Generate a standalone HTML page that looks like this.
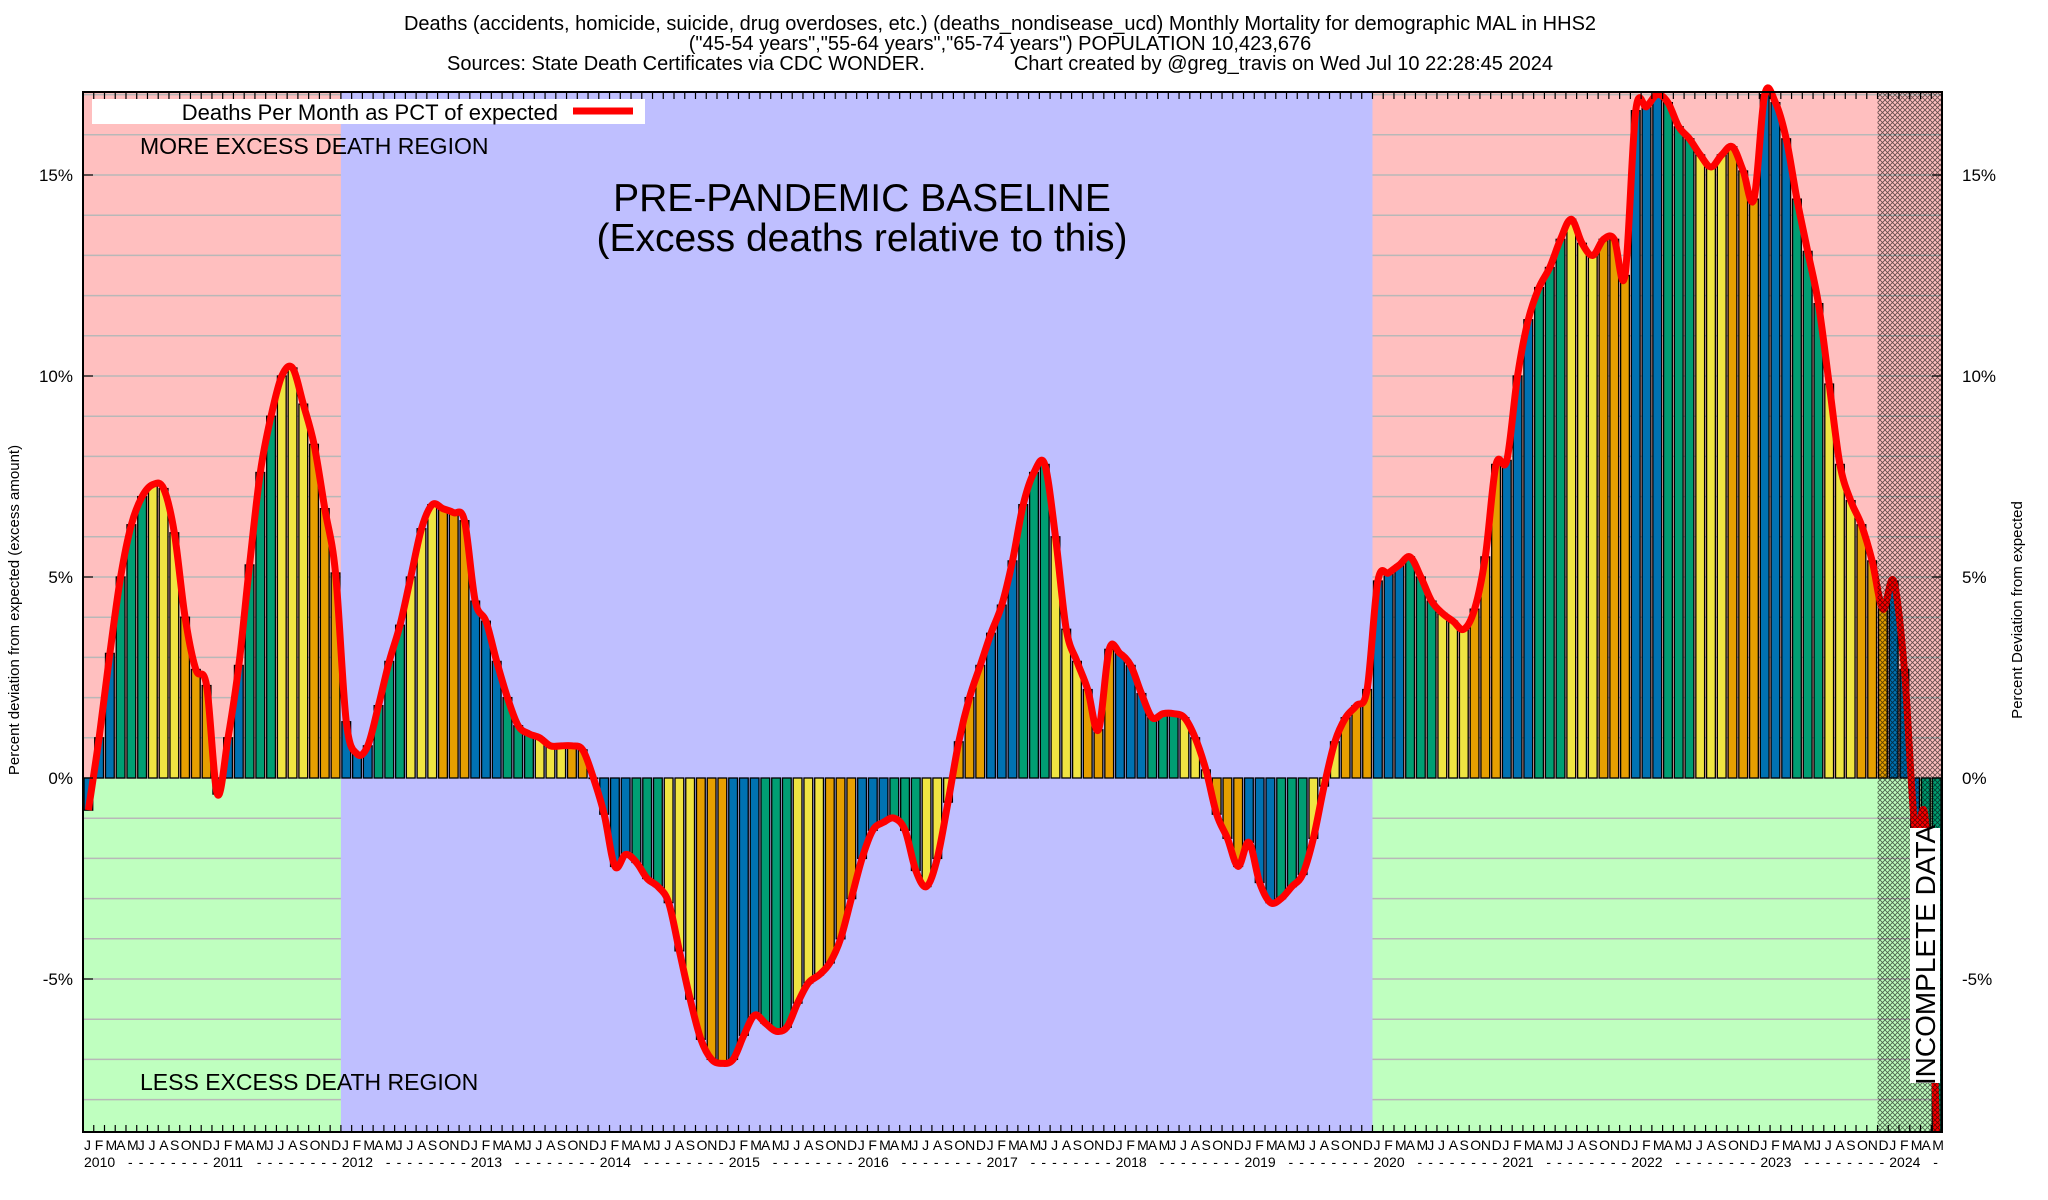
<!DOCTYPE html>
<html><head><meta charset="utf-8"><style>
html,body{margin:0;padding:0;background:#fff}
svg{display:block;font-family:"Liberation Sans",sans-serif}
</style></head><body>
<svg id="chart" width="2048" height="1200" viewBox="0 0 2048 1200" xmlns="http://www.w3.org/2000/svg">
<defs>
<pattern id="hatch" width="5" height="5" patternUnits="userSpaceOnUse">
<path d="M0,0 L5,5 M5,0 L0,5" stroke="#000" stroke-width="0.9" opacity="0.6"/>
</pattern>
</defs>
<g font-size="20" text-anchor="middle" fill="#000">
<text x="1000" y="30">Deaths (accidents, homicide, suicide, drug overdoses, etc.) (deaths_nondisease_ucd) Monthly Mortality for demographic MAL in HHS2</text>
<text x="1000" y="50">("45-54 years","55-64 years","65-74 years") POPULATION 10,423,676</text>
<text x="1000" y="70" xml:space="preserve">Sources: State Death Certificates via CDC WONDER.                Chart created by @greg_travis on Wed Jul 10 22:28:45 2024</text>
</g>
<g id="plot"></g>
</svg>
<script>
const years = [2010,2011,2012,2013,2014,2015,2016,2017,2018,2019,2020,2021,2022,2023,2024];
const monthLetters = ["J","F","M","A","M","J","J","A","S","O","N","D"];
const yTicks = [15,10,5,0,-5];
const values = [
-0.8,1.0,3.1,5.0,6.3,7.0,7.3,7.2,6.1,4.0,2.7,2.3,
-0.4,1.0,2.8,5.3,7.6,9.0,10.0,10.2,9.3,8.3,6.7,5.1,
1.4,0.6,0.8,1.8,2.9,3.8,5.0,6.2,6.8,6.7,6.6,6.4,
4.4,3.9,2.9,2.0,1.3,1.1,1.0,0.8,0.8,0.8,0.7,0.0,
-0.9,-2.2,-1.9,-2.1,-2.5,-2.7,-3.1,-4.3,-5.5,-6.5,-7.0,-7.1,
-7.0,-6.4,-5.9,-6.1,-6.3,-6.2,-5.6,-5.1,-4.9,-4.6,-4.0,-3.0,
-2.0,-1.3,-1.1,-1.0,-1.3,-2.3,-2.7,-2.0,-0.6,0.9,2.0,2.8,
3.6,4.3,5.4,6.8,7.6,7.8,6.0,3.7,2.9,2.2,1.2,3.2,
3.1,2.8,2.1,1.5,1.6,1.6,1.5,1.0,0.2,-0.9,-1.5,-2.2,
-1.6,-2.6,-3.1,-3.0,-2.7,-2.4,-1.5,-0.2,0.9,1.5,1.8,2.2,
4.9,5.1,5.3,5.5,5.0,4.4,4.1,3.9,3.7,4.2,5.5,7.8,
7.9,10.0,11.4,12.2,12.7,13.4,13.9,13.3,13.0,13.4,13.4,12.5,
16.6,16.7,17.0,16.8,16.2,15.9,15.5,15.2,15.5,15.7,15.1,14.4,
17.0,16.8,15.9,14.4,13.1,11.8,9.8,7.8,6.9,6.3,5.4,4.2,
4.9,2.7,-1.3,-1.2,-8.8
];
const L=83,R=1942,T=92,B=1132,Y0=778,PPP=40.2;
const N=values.length, MW=(R-L)/N;
const xs=i=>L+i*MW;
const ys=v=>Y0-v*PPP;
const NS="http://www.w3.org/2000/svg";
const plot=document.getElementById('plot');
function mk(tag,attrs,parent){const e=document.createElementNS(NS,tag);for(const k in attrs)e.setAttribute(k,attrs[k]);(parent||plot).appendChild(e);return e;}
const preEnd=xs(24), covStart=xs(120), incStart=xs(167);
let e;
e=mk('rect',{x:L,y:T,width:R-L,height:Y0-T,fill:'#ffbfbf'});


e=mk('rect',{x:L,y:Y0,width:R-L,height:B-Y0,fill:'#bfffbf'});


for(let v=-8;v<=17;v++){
  e=mk('line',{x1:L,x2:R,y1:ys(v),y2:ys(v),stroke:'#b8b8b8','stroke-width':1.5});
  
  
}
e=mk('rect',{x:preEnd,y:T,width:covStart-preEnd,height:B-T,fill:'#bfbfff'});


const colors=['#0072b2','#009e73','#f0e442','#e69f00'];
values.forEach((v,i)=>{
  const y=Math.min(ys(v),Y0), h=Math.abs(ys(v)-Y0);
  const b=mk('rect',{x:xs(i)+1,y:y,width:MW-2,height:Math.max(h,0.5),fill:colors[Math.floor((i%12)/3)],stroke:'#000','stroke-width':1.3});
  
  
});
const pts=values.map((v,i)=>[xs(i)+MW/2,ys(v)]);
let d=`M${pts[0][0]},${pts[0][1]}`;
for(let i=0;i<pts.length-1;i++){
  const p0=pts[Math.max(i-1,0)],p1=pts[i],p2=pts[i+1],p3=pts[Math.min(i+2,pts.length-1)];
  const c1=[p1[0]+(p2[0]-p0[0])/6,p1[1]+(p2[1]-p0[1])/6];
  const c2=[p2[0]-(p3[0]-p1[0])/6,p2[1]-(p3[1]-p1[1])/6];
  d+=` C${c1[0]},${c1[1]} ${c2[0]},${c2[1]} ${p2[0]},${p2[1]}`;
}
e=mk('path',{d:d,fill:'none',stroke:'#ff0000','stroke-width':7,'stroke-linejoin':'round'});


e=mk('rect',{x:incStart,y:T,width:R-incStart,height:B-T,fill:'url(#hatch)'});


e=mk('rect',{x:L,y:T,width:R-L,height:B-T,fill:'none',stroke:'#000','stroke-width':2});


for(let i=0;i<=N;i++){
  const x=xs(i);
  mk('line',{x1:x,x2:x,y1:T,y2:T+7,stroke:'#000','stroke-width':1.2});
  mk('line',{x1:x,x2:x,y1:B,y2:B-7,stroke:'#000','stroke-width':1.2});
}
for(let i=0;i<N;i++){
  const t=mk('text',{x:xs(i)+1,y:1150,'font-size':14});
  t.textContent=monthLetters[i%12];
  
  
}
years.forEach((yr,k)=>{
  const t=mk('text',{x:xs(k*12)+1,y:1167,'font-size':14});
  t.textContent=yr;
  
  
  const end=Math.min(N,(k+1)*12);
  for(let i=k*12+4;i<end;i++){
    const dsh=mk('text',{x:xs(i)+2,y:1167,'font-size':14});
    dsh.textContent='-';
  }
});
yTicks.forEach(v=>{
  const y=ys(v);
  mk('line',{x1:L,x2:L+10,y1:y,y2:y,stroke:'#000','stroke-width':1.2});
  mk('line',{x1:R,x2:R-10,y1:y,y2:y,stroke:'#000','stroke-width':1.2});
  let t=mk('text',{x:73,y:y+6,'font-size':17,'text-anchor':'end'});t.textContent=v+'%';
  
  
  t=mk('text',{x:1962,y:y+6,'font-size':17});t.textContent=v+'%';
  
  
});
let t=mk('text',{transform:'translate(19,610) rotate(-90)','font-size':15,'text-anchor':'middle'});
t.textContent='Percent deviation from expected (excess amount)';


t=mk('text',{transform:'translate(2022,610) rotate(-90)','font-size':15,'text-anchor':'middle'});
t.textContent='Percent Deviation from expected';


e=mk('rect',{x:92,y:99,width:553,height:25,fill:'#fff'});


t=mk('text',{x:558,y:120,'font-size':22,'text-anchor':'end'});t.textContent='Deaths Per Month as PCT of expected';


mk('line',{x1:573,x2:633,y1:111,y2:111,stroke:'#ff0000','stroke-width':7});
t=mk('text',{x:140,y:154,'font-size':23});t.textContent='MORE EXCESS DEATH REGION';


t=mk('text',{x:140,y:1090,'font-size':23});t.textContent='LESS EXCESS DEATH REGION';


t=mk('text',{x:862,y:211,'font-size':39,'text-anchor':'middle'});t.textContent='PRE-PANDEMIC BASELINE';


t=mk('text',{x:862,y:251,'font-size':39,'text-anchor':'middle'});t.textContent='(Excess deaths relative to this)';


e=mk('rect',{x:1910,y:828,width:30,height:255,fill:'#fff'});
t=mk('text',{transform:'translate(1935,955) rotate(-90)','font-size':28,'text-anchor':'middle'});t.textContent='INCOMPLETE DATA';


</script>
</body></html>
